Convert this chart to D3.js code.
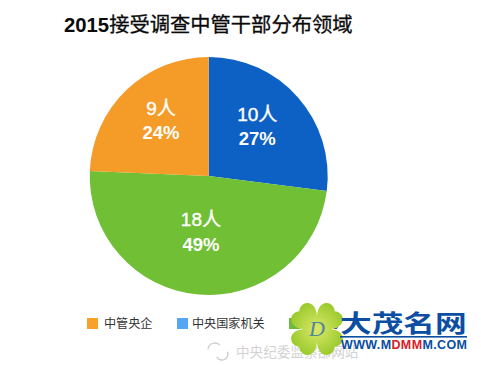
<!DOCTYPE html>
<html><head><meta charset="utf-8">
<script src="https://cdnjs.cloudflare.com/ajax/libs/d3/7.8.5/d3.min.js"></script>
<style>html,body{margin:0;padding:0;background:#fff}svg{display:block}</style></head>
<body><svg id="c" width="481" height="365"></svg>
<script>
const titleYear = "2015";
const titleText = "接受调查中管干部分布领域";
const categories = ["中央国家机关", "地方", "中管央企"];
const people = [10, 18, 9];
const shares = ["27%", "49%", "24%"];
const sliceColors = ["#0d60c4", "#70bf35", "#f59b27"];
const labelRadius = [69, 57, 73];
const labelAngleShift = [-4, 3, 3];
const legendOrder = ["中管央企", "中央国家机关", "地方"];
const legendColors = ["#f9a229", "#55a6f5", "#6dbb3c"];
const legendX = [87, 177, 289];
const legendTextX = [104, 192, 316];
const cjk = "'Liberation Sans','Noto Sans CJK SC',sans-serif";

const svg = d3.select("#c");
const defs = svg.append("defs");
const grad = defs.append("radialGradient").attr("id", "leaf").attr("gradientUnits", "userSpaceOnUse")
  .attr("cx", 0).attr("cy", 0).attr("r", 27);
grad.append("stop").attr("offset", "0%").attr("stop-color", "#dbe86a");
grad.append("stop").attr("offset", "100%").attr("stop-color", "#9ccb2e");

const t = svg.append("text").attr("x", 64).attr("y", 32).attr("font-family", cjk)
  .attr("font-size", 20.3).attr("fill", "#0a0a0a");
t.append("tspan").attr("font-weight", 700).text(titleYear);
t.append("tspan").attr("stroke", "#0a0a0a").attr("stroke-width", 0.3).text(titleText);

const cx = 208.7, cy = 176, R = 119;
const pie = d3.pie().sort(null)(people);
const arc = d3.arc().innerRadius(0).outerRadius(R);
const g = svg.append("g").attr("transform", `translate(${cx},${cy})`);
g.selectAll("path").data(pie).join("path").attr("d", arc)
  .attr("fill", (d, i) => sliceColors[i]);

const labels = g.selectAll("g.l").data(pie).join("g").attr("class", "l")
  .attr("transform", (d, i) => {
    const a = (d.startAngle + d.endAngle) / 2 + labelAngleShift[i] * Math.PI / 180;
    return `translate(${labelRadius[i] * Math.sin(a)},${-labelRadius[i] * Math.cos(a)})`;
  });
labels.append("text").attr("text-anchor", "middle").attr("y", -6).attr("font-family", cjk)
  .attr("font-size", 19).attr("stroke", "#fff").attr("stroke-width", 0.4)
  .attr("fill", "#fff").text(d => d.data + "人");
labels.append("text").attr("text-anchor", "middle").attr("y", 18.5).attr("font-family", cjk)
  .attr("font-size", 18.5).attr("font-weight", 700).attr("fill", "#fff").text((d, i) => shares[i]);

// watermark
const wm = svg.append("g");
wm.append("text").attr("x", 236).attr("y", 357).attr("font-family", cjk).attr("font-size", 13.6)
  .attr("fill", "#d2d2d2").text("中央纪委监察部网站");
const bubble = wm.append("g").attr("fill", "none").attr("stroke", "#cfcfcf").attr("stroke-width", 1.4);
bubble.append("path").attr("d", d3.arc()({innerRadius: 7, outerRadius: 7, startAngle: -1.5, endAngle: 0.8})).attr("transform", "translate(215,350)");
bubble.append("path").attr("d", d3.arc()({innerRadius: 6, outerRadius: 6, startAngle: 1.2, endAngle: 4.2})).attr("transform", "translate(222,354)");

const lg = svg.append("g");
legendOrder.forEach((name, i) => {
  lg.append("rect").attr("x", legendX[i]).attr("y", 318).attr("width", 11).attr("height", 11).attr("fill", legendColors[i]);
  lg.append("text").attr("x", legendTextX[i]).attr("y", 328).attr("font-family", cjk)
    .attr("font-size", 12.1).attr("fill", "#333").text(name);
});

// logo
const leafAngles = [-45, 45, -135, 135];
const logo = svg.append("g").attr("transform", "translate(317,329)");
leafAngles.forEach(r => {
  logo.append("path").attr("transform", `rotate(${r})`)
    .attr("d", "M0,0 C-5,-5 -17,-14 -13,-23 C-10,-29 -3,-28 0,-25 C3,-28 10,-29 13,-23 C17,-14 5,-5 0,0 Z")
    .attr("fill", "url(#leaf)");
});
logo.append("text").attr("text-anchor", "middle").attr("y", 7).attr("font-family", "'Liberation Serif',serif").attr("font-style", "italic")
  .attr("font-size", 22).attr("fill", "#2f6da8").attr("fill-opacity", 0.8).text("D");
svg.append("text").attr("transform", "translate(340,332) scale(1.32,1)")
  .attr("font-family", "'Noto Sans CJK SC',sans-serif").attr("font-weight", 700)
  .attr("font-size", 24).attr("fill", "#0b4ea2").text("大茂名网");
svg.append("rect").attr("x", 340).attr("y", 336).attr("width", 127).attr("height", 1.6).attr("fill", "#0b4ea2");
const url = svg.append("text").attr("x", 341).attr("y", 349).attr("font-family", "'Liberation Sans',sans-serif").attr("font-weight", 700)
  .attr("font-size", 12.5).attr("fill", "#0b4ea2").attr("textLength", 126);
url.append("tspan").text("WWW.M");
url.append("tspan").text("DMM").attr("fill", "#d8202a");
url.append("tspan").text("M.COM");
</script></body></html>
